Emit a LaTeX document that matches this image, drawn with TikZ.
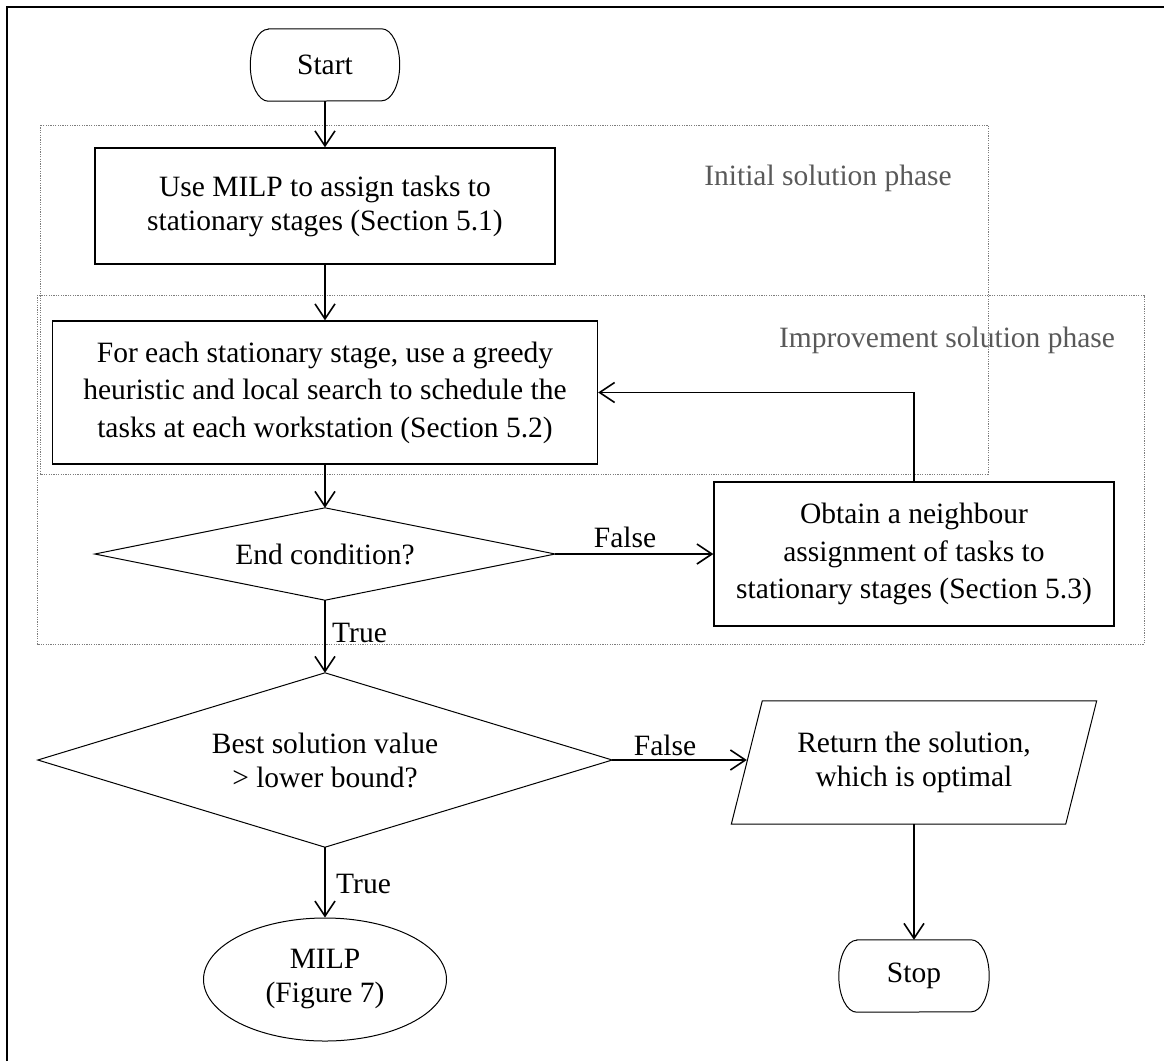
\documentclass[tikz,border=0pt]{standalone}
\usepackage{fontspec}
\setmainfont{Liberation Serif}
\usetikzlibrary{arrows.meta,shapes.geometric,calc}
\definecolor{phasegray}{RGB}{89,89,89}
\definecolor{dotgray}{RGB}{125,125,125}
\begin{document}
\begin{tikzpicture}[x=1pt,y=-1pt,
  every node/.style={inner sep=0pt, font=\fontsize{29.5}{34}\selectfont},
  procbox/.style={draw, line width=1.3pt, rectangle, align=center},
  frameless/.style={rectangle, align=center},
  outline/.style={line width=1pt},
  conn/.style={line width=1.8pt, -{Straight Barb[length=15pt,width=20pt,line width=1.6pt]}},
  phaseline/.style={draw=dotgray, line width=0.9pt, dash pattern=on 1.2pt off 1.2pt},
  phasetext/.style={text=phasegray, anchor=base},
  branch/.style={anchor=base}
]
\useasboundingbox (0,0) rectangle (1164,1061);

% page frame (top and left edges)
\draw[line width=2.5pt] (7,1061) -- (7,7) -- (1164,7);

% phase groupings
\draw[phaseline] (40,125) rectangle (988,474);
\draw[phaseline] (37,295) rectangle (1144,644);
\node[phasetext] (ph1) at (828,185) {Initial solution phase};
\node[phasetext] (ph2) at (947,347) {Improvement solution phase};

% terminator: Start
\node[frameless, minimum width=149pt, minimum height=72pt] (start) at (325,65) {Start};
\draw[outline] ([xshift=18pt]start.north west) -- ([xshift=-18pt]start.north east)
  arc[start angle=90, end angle=-90, x radius=18pt, y radius=36pt]
  -- ([xshift=18pt]start.south west)
  arc[start angle=270, end angle=90, x radius=18pt, y radius=36pt] -- cycle;

% process boxes
\node[procbox, minimum width=460pt, minimum height=116pt] (b1) at (325,206)
  {Use MILP to assign tasks to\\stationary stages (Section 5.1)};
\node[procbox, minimum width=545pt, minimum height=143pt,
      font=\fontsize{29.5}{37.5}\selectfont] (b2) at (325,392.5)
  {For each stationary stage, use a greedy\\heuristic and local search to schedule the\\tasks at each workstation (Section 5.2)};
\node[procbox, minimum width=400pt, minimum height=144pt,
      font=\fontsize{29.5}{37.5}\selectfont] (b3) at (914,554)
  {Obtain a neighbour\\assignment of tasks to\\stationary stages (Section 5.3)};

% decisions
\node[frameless, minimum width=460pt, minimum height=92pt] (d1) at (325,554) {End condition?};
\draw[outline] (d1.north) -- (d1.east) -- (d1.south) -- (d1.west) -- cycle;
\node[frameless, minimum width=574pt, minimum height=174pt] (d2) at (325,760)
  {Best solution value\\> lower bound?};
\draw[outline] (d2.north) -- (d2.east) -- (d2.south) -- (d2.west) -- cycle;

% output
\node[frameless, minimum width=334pt, minimum height=123pt] (ret) at (914,762.5)
  {Return the solution,\\which is optimal};
\draw[outline] ([xshift=15.5pt]ret.north west) -- ([xshift=15.5pt]ret.north east)
  -- ([xshift=-15.5pt]ret.south east) -- ([xshift=-15.5pt]ret.south west) -- cycle;

% terminator: Stop
\node[frameless, minimum width=150pt, minimum height=72pt] (stop) at (914,976) {Stop};
\draw[outline] ([xshift=18pt]stop.north west) -- ([xshift=-18pt]stop.north east)
  arc[start angle=90, end angle=-90, x radius=18pt, y radius=36pt]
  -- ([xshift=18pt]stop.south west)
  arc[start angle=270, end angle=90, x radius=18pt, y radius=36pt] -- cycle;

% sub-process
\node[draw, ellipse, outline, align=center, minimum width=243pt, minimum height=123pt] (milp)
  at (325,979.5) {MILP\\(Figure 7)};

% connectors
\draw[conn] (start) -- (b1);
\draw[conn] (b1) -- (b2);
\draw[conn] (b2) -- (d1);
\draw[conn] (d1.east) -- (b3.west);
\draw[conn] (b3.north) |- (b2.east);
\draw[conn] (d1.south) -- (d2.north);
\draw[conn] (d2.south) -- (milp.north);
\draw[conn] (d2.east) -- (d2.east -| ret.west);
\draw[conn] (ret.south) -- (stop.north);

% branch labels
\node[branch, anchor=base west] (t1) at (332,642) {True};
\node[branch] (f1) at (625,547) {False};
\node[branch, anchor=base west] (t2) at (336,893) {True};
\node[branch] (f2) at (665,755) {False};
\end{tikzpicture}
\end{document}
